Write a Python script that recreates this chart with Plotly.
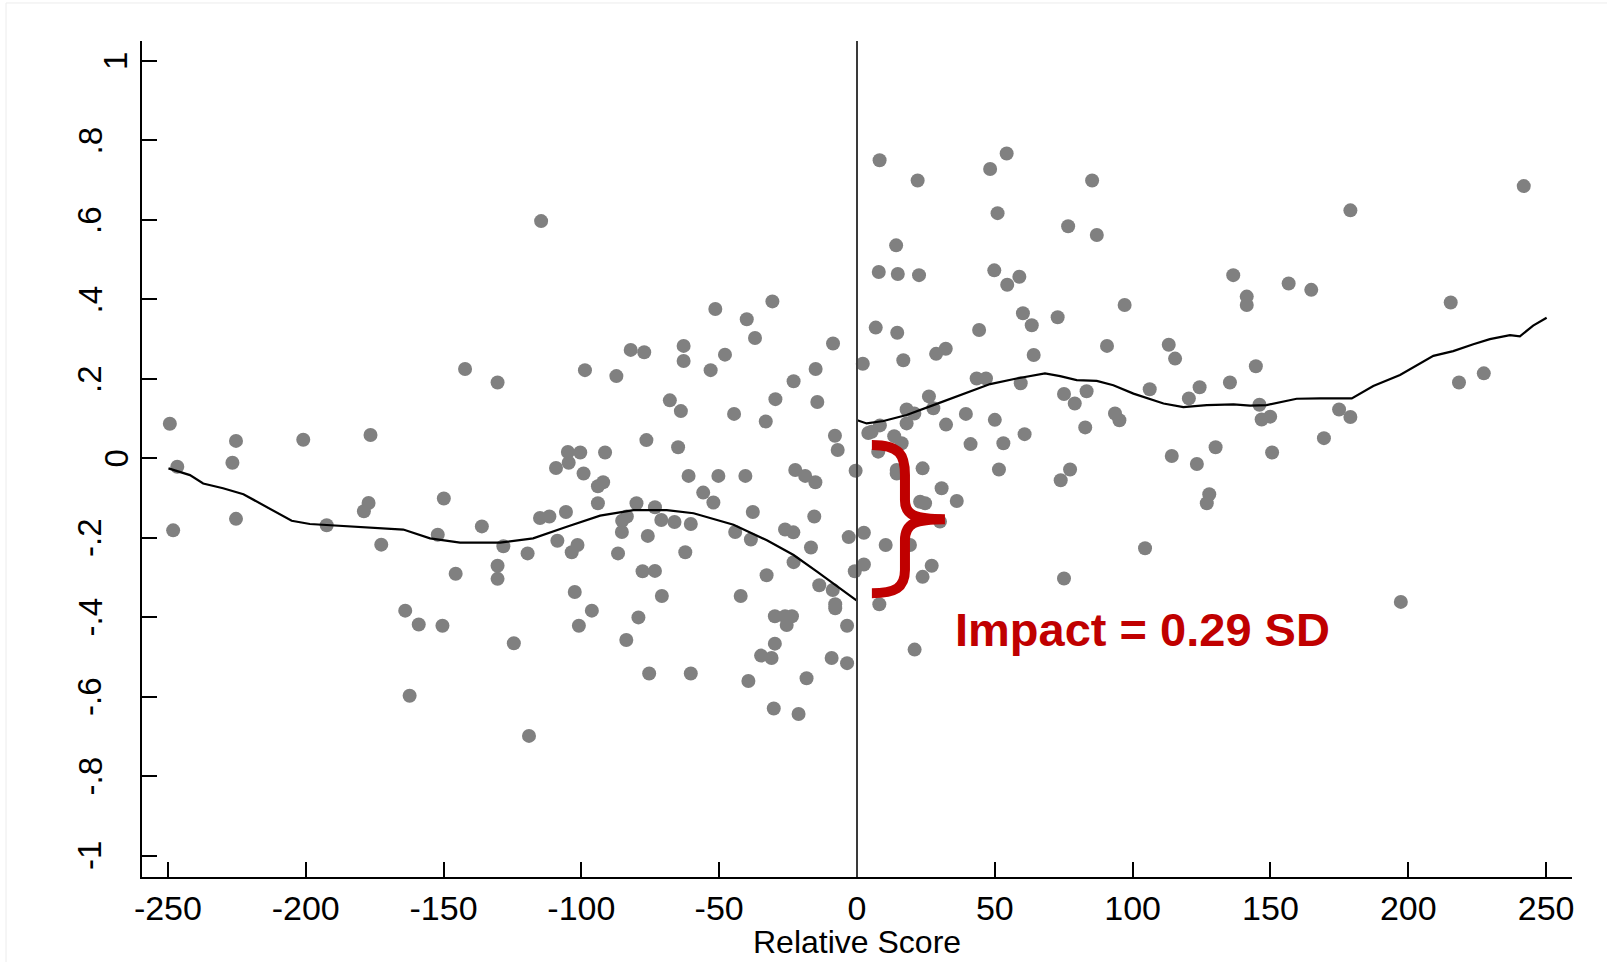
import plotly.graph_objects as go

# ---- data: scatter points (relative score, outcome) ----
left_x = [-249.3, -225.3, -200.9, -176.5, -226.6, -142.2, -130.4, -114.6, -246.6, -248.1,
          -225.3, -192.4, -177.2, -178.9, -172.6, -149.9, -152.1, -136.1, -128.3, -145.6,
          -130.4, -130.4, -163.9, -159.0, -150.4, -124.5, -162.3,
          -98.7, -87.3, -82.1, -77.2, -62.9, -62.9, -51.4, -40.0, -30.7, -37.0,
          -47.9, -53.1, -8.7, -15.0, -23.0, -29.6, -14.4, -67.9, -63.9, -44.6,
          -33.1, -8.0, -7.0, -76.4, -64.9, -104.9, -100.4, -91.4, -109.2, -104.6,
          -99.2, -92.1, -94.0, -61.1, -50.3, -40.5, -22.4, -18.8, -15.1, -0.5,
          -55.8, -52.1, -94.0, -80.0, -73.3, -105.6, -111.6, -115.0, -83.5, -37.8, -15.5,
          -85.2, -71.0, -66.2, -60.3, -44.2, -38.5, -26.1, -23.1, -16.7, -23.0,
          -3.0, -0.8, -119.5, -108.7, -101.4, -103.5, -85.3, -86.7, -75.9, -62.3,
          -77.8, -73.3, -102.4, -70.8, -42.2, -32.8, -13.7, -8.8, -7.9, -7.9,
          -96.2, -100.9, -79.3, -83.7, -29.8, -26.1, -23.6, -25.5, -3.6, -29.8,
          -34.8, -31.0, -9.2, -3.6, -75.4, -60.3, -39.4, -18.3, -30.2, -21.2, -119.0]
left_y = [0.087, 0.044, 0.047, 0.059, -0.011, 0.225, 0.191, 0.597, -0.021, -0.181,
          -0.152, -0.168, -0.112, -0.133, -0.217, -0.101, -0.192, -0.171, -0.221, -0.290,
          -0.270, -0.303, -0.383, -0.418, -0.421, -0.465, -0.597,
          0.222, 0.207, 0.273, 0.267, 0.283, 0.245, 0.376, 0.350, 0.395, 0.303,
          0.261, 0.222, 0.289, 0.225, 0.194, 0.149, 0.142, 0.146, 0.119, 0.112,
          0.093, 0.057, 0.021, 0.046, 0.028, 0.016, 0.015, 0.015, -0.024, -0.011,
          -0.038, -0.060, -0.070, -0.044, -0.044, -0.044, -0.029, -0.044, -0.060, -0.031,
          -0.086, -0.111, -0.113, -0.113, -0.123, -0.135, -0.146, -0.150, -0.146, -0.135, -0.146,
          -0.157, -0.155, -0.160, -0.165, -0.185, -0.204, -0.179, -0.186, -0.224, -0.261,
          -0.198, -0.284, -0.239, -0.207, -0.218, -0.236, -0.185, -0.239, -0.195, -0.236,
          -0.284, -0.283, -0.336, -0.346, -0.346, -0.294, -0.319, -0.331, -0.367, -0.377,
          -0.383, -0.421, -0.400, -0.457, -0.397, -0.397, -0.397, -0.419, -0.421, -0.466,
          -0.496, -0.502, -0.502, -0.515, -0.541, -0.541, -0.560, -0.553, -0.629, -0.643, -0.698]

right_x = [2.1, 4.1, 2.5, 2.5, 8.2, 54.3, 48.3, 22.0, 85.3, 51.0,
           76.6, 87.0, 14.2, 7.9, 14.8, 22.5, 49.8, 58.9, 54.5, 136.5,
           97.1, 60.2, 63.4, 72.8, 6.8, 14.6, 44.3, 28.7, 32.2, 16.8,
           64.1, 90.7, 113.1, 115.4, 43.4, 46.8, 59.4, 26.1, 18.0, 20.8,
           27.7, 39.5, 75.1, 83.3, 79.0, 106.2, 124.3, 120.4, 135.3, 93.6,
           95.2, 18.0, 32.3, 50.0, 82.8, 60.8, 8.3, 5.3, 13.5, 41.2,
           53.1, 16.2, 7.7, 14.4, 14.4, 23.8, 51.5, 77.3, 73.9, 114.2,
           130.1, 123.3, 127.8, 126.9, 30.7, 36.2, 22.9, 24.7, 30.1, 10.4,
           19.2, 27.1, 23.8, 8.1, 20.9, 75.1, 104.5, 241.9, 179.0, 156.6,
           164.8, 141.4, 141.4, 215.4, 144.7, 146.0, 146.8, 149.9, 174.9, 179.0,
           169.4, 150.6, 218.4, 227.4, 197.3]
right_y = [0.238, 0.064, -0.187, -0.267, 0.750, 0.767, 0.728, 0.699, 0.699, 0.617,
           0.584, 0.562, 0.536, 0.469, 0.464, 0.461, 0.473, 0.457, 0.437, 0.461,
           0.386, 0.365, 0.335, 0.355, 0.329, 0.316, 0.323, 0.263, 0.276, 0.247,
           0.260, 0.283, 0.286, 0.251, 0.201, 0.201, 0.189, 0.156, 0.123, 0.113,
           0.126, 0.112, 0.162, 0.169, 0.138, 0.174, 0.179, 0.151, 0.191, 0.113,
           0.096, 0.088, 0.085, 0.097, 0.078, 0.061, 0.083, 0.067, 0.056, 0.036,
           0.038, 0.038, 0.017, -0.029, -0.038, -0.025, -0.028, -0.028, -0.055, 0.006,
           0.028, -0.014, -0.090, -0.113, -0.075, -0.107, -0.109, -0.113, -0.159, -0.218,
           -0.218, -0.270, -0.298, -0.367, -0.481, -0.302, -0.226, 0.685, 0.624, 0.440,
           0.424, 0.407, 0.386, 0.392, 0.232, 0.135, 0.098, 0.105, 0.123, 0.104,
           0.051, 0.015, 0.191, 0.214, -0.361]

# ---- data: smoothed (lowess) fits on each side of the cutoff ----
fit_left_x = [-249.8, -242, -237.2, -230, -222.6, -214.2, -205.1, -198.5, -175.5, -164.6,
              -154.9, -144, -129.5, -122.3, -117.5, -105.3, -93.2, -81.1, -69.0, -59.3,
              -44.8, -32.7, -23.0, -14.5, -8.5, -0.2]
fit_left_y = [-0.025, -0.042, -0.063, -0.075, -0.090, -0.122, -0.157, -0.165, -0.175, -0.179,
              -0.201, -0.212, -0.212, -0.206, -0.201, -0.172, -0.144, -0.130, -0.130, -0.138,
              -0.167, -0.206, -0.243, -0.285, -0.315, -0.357]
fit_right_x = [0.1, 3.5, 9.6, 18, 27.7, 37.5, 48.3, 57.9, 68.2, 73.7, 79.7, 87, 93, 100.3,
               111.2, 118.4, 126.9, 136.6, 142.6, 148.6, 159.5, 168, 179.5, 187.3, 197,
               209.1, 216.3, 223.6, 229.6, 236.9, 240.5, 245.3, 250.2]
fit_right_y = [0.096, 0.088, 0.094, 0.109, 0.134, 0.159, 0.187, 0.201, 0.214, 0.207, 0.197,
               0.195, 0.184, 0.163, 0.138, 0.129, 0.134, 0.136, 0.133, 0.134, 0.150, 0.151,
               0.151, 0.182, 0.210, 0.258, 0.270, 0.287, 0.300, 0.310, 0.307, 0.334, 0.354]

x_ticks = [-250, -200, -150, -100, -50, 0, 50, 100, 150, 200, 250]
x_ticktext = ["-250", "-200", "-150", "-100", "-50", "0", "50", "100", "150", "200", "250"]
y_ticks = [-1, -0.8, -0.6, -0.4, -0.2, 0, 0.2, 0.4, 0.6, 0.8, 1]
y_ticktext = ["-1", "-.8", "-.6", "-.4", "-.2", "0", ".2", ".4", ".6", ".8", "1"]

x_title = "Relative Score"
impact_text = "Impact = 0.29 SD"

FONT = "Liberation Sans, Arial, Helvetica, sans-serif"
RED = "#c00000"

fig = go.Figure()
fig.add_trace(go.Scatter(x=left_x + right_x, y=left_y + right_y, mode="markers",
                         marker=dict(color="#808080", size=14, line=dict(width=0)),
                         hoverinfo="skip", showlegend=False))
fig.add_trace(go.Scatter(x=fit_left_x, y=fit_left_y, mode="lines",
                         line=dict(color="black", width=2.2), showlegend=False))
fig.add_trace(go.Scatter(x=fit_right_x, y=fit_right_y, mode="lines",
                         line=dict(color="black", width=2.2), showlegend=False))

# cutoff line
fig.add_shape(type="line", xref="x", yref="paper", x0=0, x1=0, y0=0, y1=1,
              line=dict(color="#3a3a3a", width=2))

# brace (decoration, in data units)
brace = ("M 5.4 0.034 C 15.6 0.034 17.4 0.008 17.4 -0.042 "
         "L 17.4 -0.105 C 17.4 -0.143 21.0 -0.153 31.9 -0.153 "
         "C 21.0 -0.153 17.4 -0.163 17.4 -0.206 "
         "L 17.4 -0.281 C 17.4 -0.326 13.8 -0.339 5.4 -0.339")
fig.add_shape(type="path", xref="x", yref="y", path=brace,
              line=dict(color=RED, width=10), fillcolor="rgba(0,0,0,0)")

fig.add_annotation(x=103.6, y=-0.431, xref="x", yref="y", text="<b>" + impact_text + "</b>",
                   showarrow=False, font=dict(family=FONT, size=47, color=RED),
                   xanchor="center", yanchor="middle")

# y tick labels, rotated
for v, t in zip(y_ticks, y_ticktext):
    shift = -26 if len(t) == 1 else -52
    fig.add_annotation(x=0, y=v, xref="paper", yref="y", text=t, showarrow=False,
                       textangle=-90, xanchor="center", yanchor="middle", xshift=shift,
                       font=dict(family=FONT, size=33, color="black"))

fig.add_annotation(x=0.5, y=0, xref="paper", yref="paper", text=x_title, showarrow=False,
                   xanchor="center", yanchor="middle", yshift=-65,
                   font=dict(family=FONT, size=32, color="black"))

# faint outer frame (top and left)
fig.add_shape(type="line", xref="paper", yref="paper", x0=-0.0951, x1=1.0245, y0=1.0455, y1=1.0455,
              line=dict(color="#ececec", width=1))
fig.add_shape(type="line", xref="paper", yref="paper", x0=-0.0951, x1=-0.0951, y0=-0.1017, y1=1.0455,
              line=dict(color="#ececec", width=1))

fig.update_xaxes(range=[-259.4, 259.4], tickvals=x_ticks, ticktext=x_ticktext,
                 showgrid=False, zeroline=False, showline=True, linecolor="black", linewidth=2,
                 ticks="inside", ticklen=15, tickwidth=2, tickcolor="black",
                 tickfont=dict(family=FONT, size=34, color="black"), ticklabelstandoff=0)
fig.update_yaxes(range=[-1.053, 1.050], tickvals=y_ticks, showticklabels=False,
                 showgrid=False, zeroline=False, showline=True, linecolor="black", linewidth=2,
                 ticks="inside", ticklen=15, tickwidth=2, tickcolor="black")

fig.update_layout(width=1613, height=965, margin=dict(l=142, r=41, t=41, b=88),
                  plot_bgcolor="white", paper_bgcolor="white",
                  font=dict(family=FONT), showlegend=False)

fig.write_html("out.html")
